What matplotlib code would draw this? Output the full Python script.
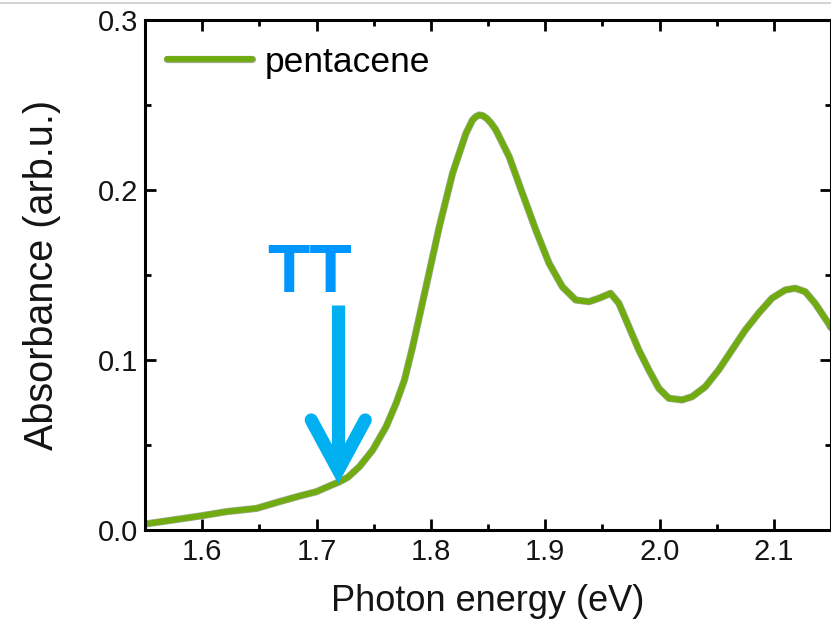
import matplotlib
matplotlib.use("Agg")
import matplotlib.pyplot as plt
import matplotlib.patheffects as pe
from matplotlib.lines import Line2D
import numpy as np

plt.rcParams["font.family"] = ["Liberation Sans", "DejaVu Sans"]

# absorbance spectrum
energy = [1.5500, 1.5747, 1.5980, 1.6213, 1.6475, 1.6678, 1.6853, 1.6998, 1.7114, 1.7202,
          1.7274, 1.7376, 1.7492, 1.7609, 1.7696, 1.7769, 1.7841, 1.7958, 1.8074, 1.8190,
          1.8307, 1.8365, 1.8395, 1.8423, 1.8455, 1.8490, 1.8525, 1.8569, 1.8685, 1.8801,
          1.8918, 1.9034, 1.9150, 1.9267, 1.9383, 1.9470, 1.9572, 1.9645, 1.9732, 1.9819,
          1.9907, 1.9994, 2.0081, 2.0197, 2.0285, 2.0401, 2.0517, 2.0634, 2.0750, 2.0867,
          2.0983, 2.1100, 2.1187, 2.1274, 2.1361, 2.1477, 2.1500]
absorbance = [0.0035, 0.0059, 0.0082, 0.0108, 0.0127, 0.0167, 0.0200, 0.0225, 0.0259, 0.0284,
              0.0310, 0.0373, 0.0471, 0.0608, 0.0745, 0.0882, 0.1078, 0.1431, 0.1784, 0.2098,
              0.2333, 0.2412, 0.2432, 0.2441, 0.2437, 0.2420, 0.2395, 0.2353, 0.2196, 0.1980,
              0.1765, 0.1569, 0.1431, 0.1353, 0.1343, 0.1363, 0.1392, 0.1333, 0.1196, 0.1059,
              0.0941, 0.0833, 0.0775, 0.0765, 0.0784, 0.0843, 0.0941, 0.1059, 0.1176, 0.1275,
              0.1363, 0.1412, 0.1422, 0.1402, 0.1333, 0.1216, 0.1190]

series_label = "pentacene"
x_ticks = [1.6, 1.7, 1.8, 1.9, 2.0, 2.1]
y_ticks = [0.0, 0.1, 0.2, 0.3]

# TT marker: arrow tip, arrow tail and label position (data coords)
tt_tip = (1.719, 0.0353)
tt_tail = (1.719, 0.1324)
tt_text = (1.694, 0.140)

fig = plt.figure(figsize=(8.31, 6.23), dpi=100)
ax = fig.add_axes([0.1745, 0.1493, 0.8255, 0.8186])

ax.plot(energy, absorbance, color="#70AB10", lw=4.2, label=series_label,
        solid_capstyle="round", solid_joinstyle="round",
        path_effects=[pe.Stroke(linewidth=5.2, foreground="#a0ab95"), pe.Normal()])

ax.set_xlim(1.55, 2.15)
ax.set_ylim(0.0, 0.3)
ax.set_xticks(x_ticks)
ax.set_xticklabels([f"{v:.1f}" for v in x_ticks])
ax.set_yticks(y_ticks)
ax.set_yticklabels([f"{v:.1f}" for v in y_ticks])
ax.set_xticks(np.arange(1.55, 2.151, 0.05), minor=True)
ax.set_yticks(np.arange(0.05, 0.3, 0.1), minor=True)

for s in ax.spines.values():
    s.set_linewidth(2.2)
ax.tick_params(which="both", direction="in", top=True, right=True, width=2.0,
               labelsize=21, colors="black")
ax.tick_params(which="major", length=8, pad=6)
ax.tick_params(which="minor", length=4.5)
ax.tick_params(axis="y", which="major", pad=5)
for lbl in ax.get_xticklabels() + ax.get_yticklabels():
    lbl.set_color("#141414")

ax.set_xlabel("Photon energy (eV)", fontsize=26, color="#141414")
ax.set_ylabel("Absorbance (arb.u.)", fontsize=28.5, color="#141414")
ax.xaxis.set_label_coords(0.5, -0.105)
ax.yaxis.set_label_coords(-0.123, 0.5)

# TT arrow: shaft plus open chevron head with round caps
arrow_col = "#00B0F0"
hw = 0.0236
hl = 0.0294
ax.plot([tt_tail[0], tt_tip[0]], [tt_tail[1], tt_tip[1] + 0.004], color=arrow_col,
        lw=9.5, solid_capstyle="butt")
ax.plot([tt_tip[0] - hw, tt_tip[0], tt_tip[0] + hw],
        [tt_tip[1] + hl, tt_tip[1], tt_tip[1] + hl], color=arrow_col,
        lw=9.5, solid_capstyle="round", solid_joinstyle="miter")
ax.text(tt_text[0], tt_text[1], "TT", color="#0096FF", fontsize=50,
        fontweight="bold", ha="center", va="baseline")

leg = ax.legend(loc="center left", bbox_to_anchor=(0.032, 0.9176), frameon=False,
                fontsize=25.5, handlelength=2.4, handletextpad=0.35,
                borderaxespad=0, borderpad=0)

# thin grey border line at the very top of the screenshot
fig.add_artist(Line2D([0, 1], [1 - 2.5 / 623, 1 - 2.5 / 623], color="#cccccc",
                      lw=1.2, transform=fig.transFigure))

fig.savefig("out.png", dpi=100)
